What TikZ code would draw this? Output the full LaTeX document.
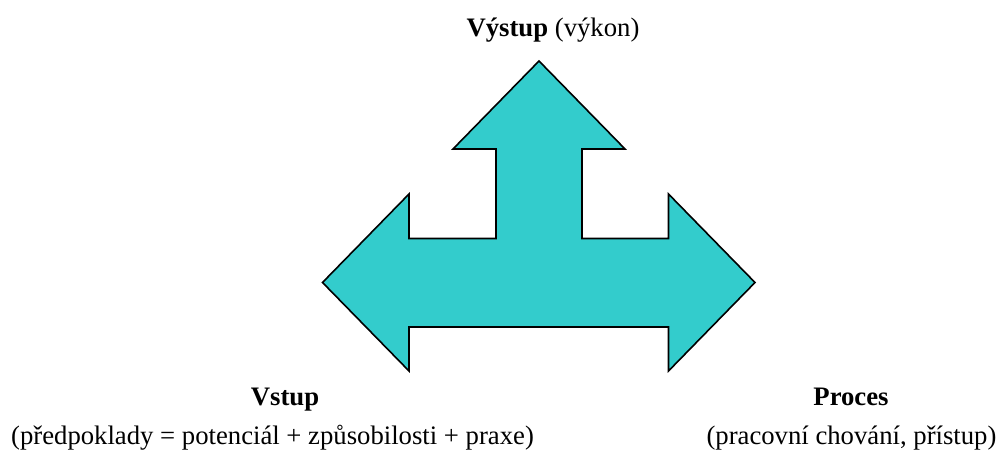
\documentclass[tikz,border=0pt]{standalone}
\usepackage{fontspec}
\setmainfont{Liberation Serif}
\definecolor{arrowfill}{HTML}{33CCCC}
\begin{document}
\begin{tikzpicture}[x=1pt,y=-1pt,
  lbl/.style={inner sep=0pt, anchor=base, font=\fontsize{26.7}{30}\selectfont},
  threeway/.style={fill=arrowfill, draw=black, line width=1.6pt, line join=miter}]
\useasboundingbox (0,0) rectangle (999,454);
% three-way arrow: up, right, left
\draw[threeway]
  (539,61) -- (625,149) -- (582,149) -- (582,238.5) -- (668.5,238.5) -- (668.5,194)
  -- (755,282.5) -- (668.5,371) -- (668.5,327) -- (409,327) -- (409,371)
  -- (322.5,282.5) -- (409,194) -- (409,238.5) -- (496,238.5) -- (496,149)
  -- (453,149) -- cycle;
% labels
\node[lbl] (out) at (553,37) {\textbf{Výstup} (výkon)};
\node[lbl] (in) at (285,406) {\textbf{Vstup}};
\node[lbl] (proc) at (851,406) {\textbf{Proces}};
\node[lbl] (indesc) at (272.5,444) {(předpoklady = potenciál + způsobilosti + praxe)};
\node[lbl] (procdesc) at (851.5,444) {(pracovní chování, přístup)};
\end{tikzpicture}
\end{document}
